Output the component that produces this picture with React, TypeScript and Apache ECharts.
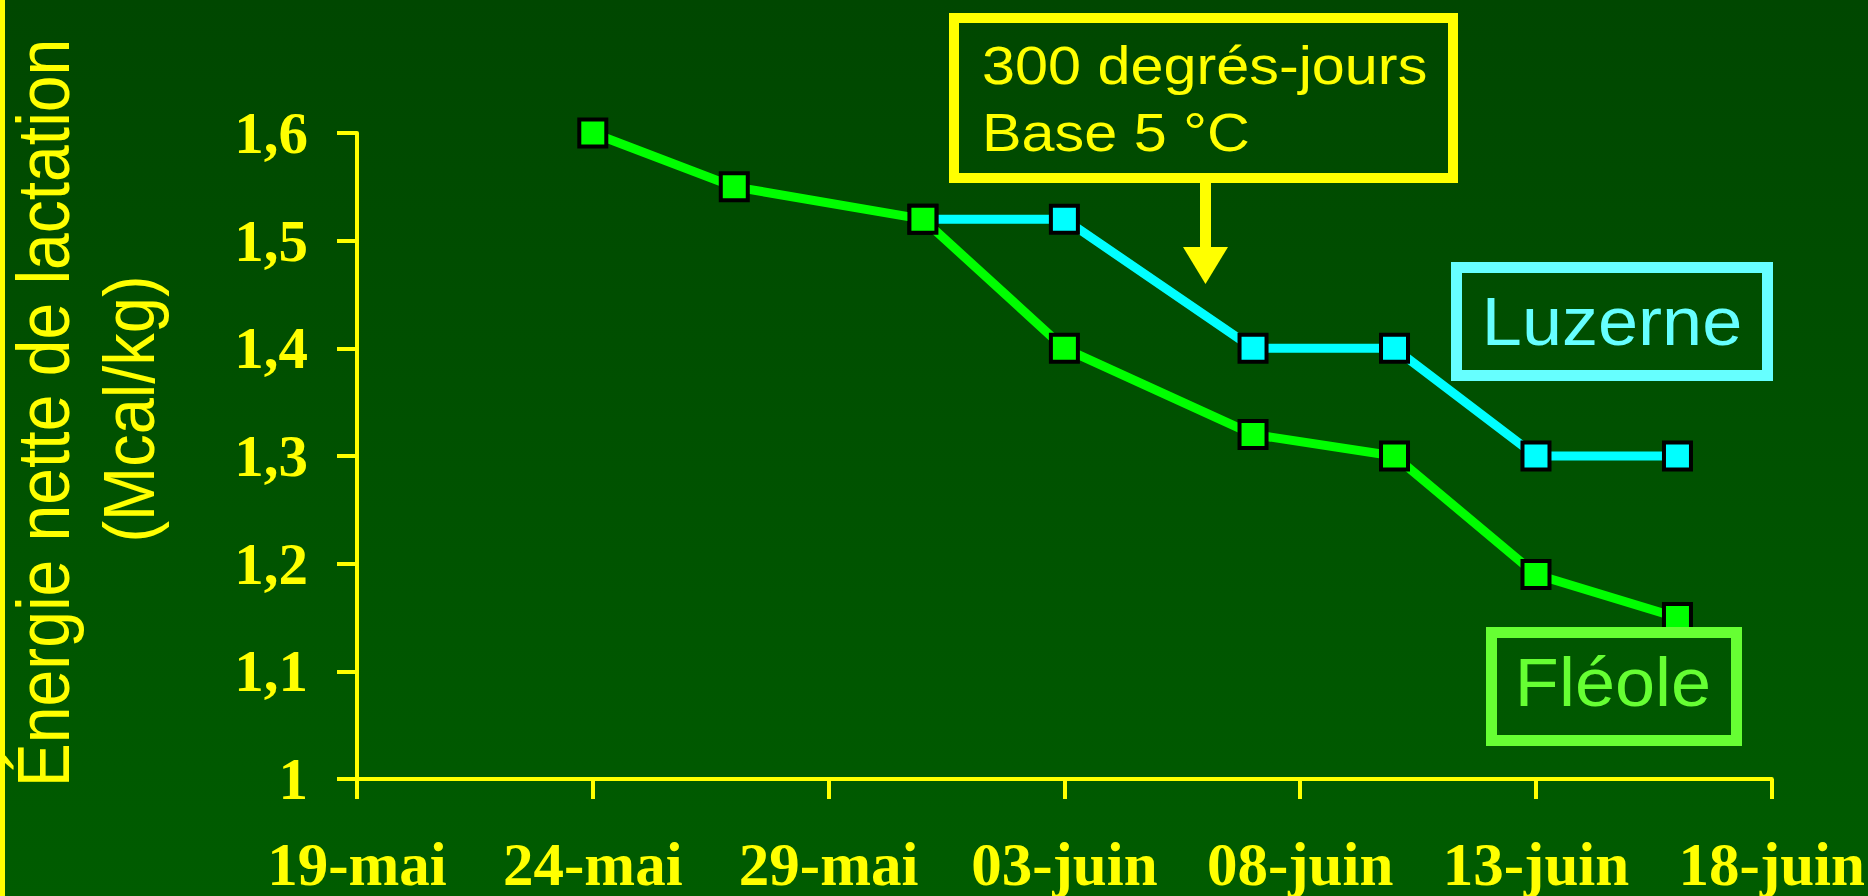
import React, { useEffect, useRef } from "react";
import * as echarts from "echarts";

// ---- data ----
const startDate = "2001-05-19";
const xTickLabels = ["19-mai", "24-mai", "29-mai", "03-juin", "08-juin", "13-juin", "18-juin"];
const yTickMin = 1.0;
const yTickMax = 1.6;

const fleoleDates = ["2001-05-24", "2001-05-27", "2001-05-31", "2001-06-03", "2001-06-07", "2001-06-10", "2001-06-13", "2001-06-16"];
const fleoleValues = [1.6, 1.55, 1.52, 1.4, 1.32, 1.3, 1.19, 1.15];

const luzerneDates = ["2001-05-31", "2001-06-03", "2001-06-07", "2001-06-10", "2001-06-13", "2001-06-16"];
const luzerneValues = [1.52, 1.52, 1.4, 1.4, 1.3, 1.3];

const yTitleLine1 = "Énergie nette de lactation";
const yTitleLine2 = "(Mcal/kg)";
const noteLine1 = "300 degrés-jours";
const noteLine2 = "Base 5 °C";
const luzerneName = "Luzerne";
const fleoleName = "Fléole";

const dayOffset = (d: string) => Math.round((Date.parse(d) - Date.parse(startDate)) / 86400000);
const toPairs = (dates: string[], vals: number[]) => dates.map((d, i) => [dayOffset(d), vals[i]]);

const YELLOW = "#FFFF00";
const SANS = "'Liberation Sans', Arial, sans-serif";
const SERIF = "'Liberation Serif', 'Times New Roman', serif";

export default function App() {
  const ref = useRef<HTMLDivElement>(null);
  useEffect(() => {
    const chart = echarts.init(ref.current!, null, { renderer: "svg" });
    chart.setOption({
      animation: false,
      backgroundColor: new echarts.graphic.LinearGradient(0, 0, 0, 1, [
        { offset: 0, color: "#004700" },
        { offset: 1, color: "#005c00" },
      ]),
      grid: { left: 357, top: 133, right: 95, bottom: 117, containLabel: false },
      xAxis: {
        type: "value",
        min: 0,
        max: 30,
        interval: 5,
        axisLine: { lineStyle: { color: YELLOW, width: 4 } },
        axisTick: { show: true, length: 20, lineStyle: { color: YELLOW, width: 4 } },
        splitLine: { show: false },
        axisLabel: {
          color: YELLOW,
          fontFamily: SERIF,
          fontWeight: "bold",
          fontSize: 61,
          lineHeight: 50,
          margin: 60,
          formatter: (v: number) => xTickLabels[Math.round(v / 5)] ?? "",
        },
      },
      yAxis: {
        type: "value",
        min: yTickMin,
        max: yTickMax,
        interval: 0.1,
        axisLine: { show: true, lineStyle: { color: YELLOW, width: 4 } },
        axisTick: { show: true, length: 20, lineStyle: { color: YELLOW, width: 4 } },
        splitLine: { show: false },
        axisLabel: {
          color: YELLOW,
          fontFamily: SERIF,
          fontWeight: "bold",
          fontSize: 59,
          margin: 49,
          formatter: (v: number) => (Math.abs(v - 1) < 1e-9 ? "1" : v.toFixed(1).replace(".", ",")),
        },
      },
      series: [
        {
          name: luzerneName,
          type: "line",
          data: toPairs(luzerneDates, luzerneValues),
          symbol: "rect",
          symbolSize: 27,
          lineStyle: { color: "#00FFFF", width: 9 },
          itemStyle: { color: "#00FFFF", borderColor: "#000000", borderWidth: 4 },
          z: 3,
        },
        {
          name: fleoleName,
          type: "line",
          data: toPairs(fleoleDates, fleoleValues),
          symbol: "rect",
          symbolSize: 27,
          lineStyle: { color: "#00FF00", width: 9 },
          itemStyle: { color: "#00FF00", borderColor: "#000000", borderWidth: 4 },
          z: 4,
        },
      ],
      graphic: [
        { type: "rect", x: 0, y: 0, shape: { x: 0, y: 0, width: 5, height: 896 }, style: { fill: YELLOW }, z: 100 },
        {
          type: "text",
          x: 43.5,
          y: 413,
          rotation: Math.PI / 2,
          scaleY: 1.12,
          z: 100,
          style: { text: yTitleLine1, fill: YELLOW, fontFamily: SANS, fontSize: 66, textAlign: "center", textVerticalAlign: "middle" },
        },
        {
          type: "text",
          x: 129,
          y: 409,
          rotation: Math.PI / 2,
          scaleY: 1.12,
          z: 100,
          style: { text: yTitleLine2, fill: YELLOW, fontFamily: SANS, fontSize: 65, textAlign: "center", textVerticalAlign: "middle" },
        },
        {
          type: "rect",
          z: 100,
          shape: { x: 954, y: 18, width: 499, height: 160 },
          style: { fill: "none", stroke: YELLOW, lineWidth: 10 },
        },
        {
          type: "text",
          x: 982,
          y: 66,
          scaleX: 1.12,
          z: 100,
          style: { text: noteLine1, fill: YELLOW, fontFamily: SANS, fontSize: 53, textAlign: "left", textVerticalAlign: "middle" },
        },
        {
          type: "text",
          x: 982,
          y: 132.5,
          scaleX: 1.12,
          z: 100,
          style: { text: noteLine2, fill: YELLOW, fontFamily: SANS, fontSize: 53, textAlign: "left", textVerticalAlign: "middle" },
        },
        { type: "rect", z: 100, shape: { x: 1200, y: 183, width: 11, height: 66 }, style: { fill: YELLOW } },
        {
          type: "polygon",
          z: 100,
          shape: { points: [[1183, 247], [1228, 247], [1205.5, 284]] },
          style: { fill: YELLOW },
        },
        {
          type: "rect",
          z: 100,
          shape: { x: 1456.5, y: 267.5, width: 311, height: 108 },
          style: { fill: "none", stroke: "#66FFFF", lineWidth: 11 },
        },
        {
          type: "text",
          x: 1612,
          y: 321.5,
          scaleX: 1.06,
          z: 100,
          style: { text: luzerneName, fill: "#66FFFF", fontFamily: SANS, fontSize: 68, textAlign: "center", textVerticalAlign: "middle" },
        },
        {
          type: "rect",
          z: 100,
          shape: { x: 1491.5, y: 632.5, width: 245, height: 108 },
          style: { fill: "none", stroke: "#66FF33", lineWidth: 11 },
        },
        {
          type: "text",
          x: 1613,
          y: 683,
          scaleX: 1.06,
          z: 100,
          style: { text: fleoleName, fill: "#66FF33", fontFamily: SANS, fontSize: 68, textAlign: "center", textVerticalAlign: "middle" },
        },
      ],
    });
    return () => chart.dispose();
  }, []);
  return <div ref={ref} style={{ position: "fixed", left: 0, top: 0, width: 1868, height: 896 }} />;
}
